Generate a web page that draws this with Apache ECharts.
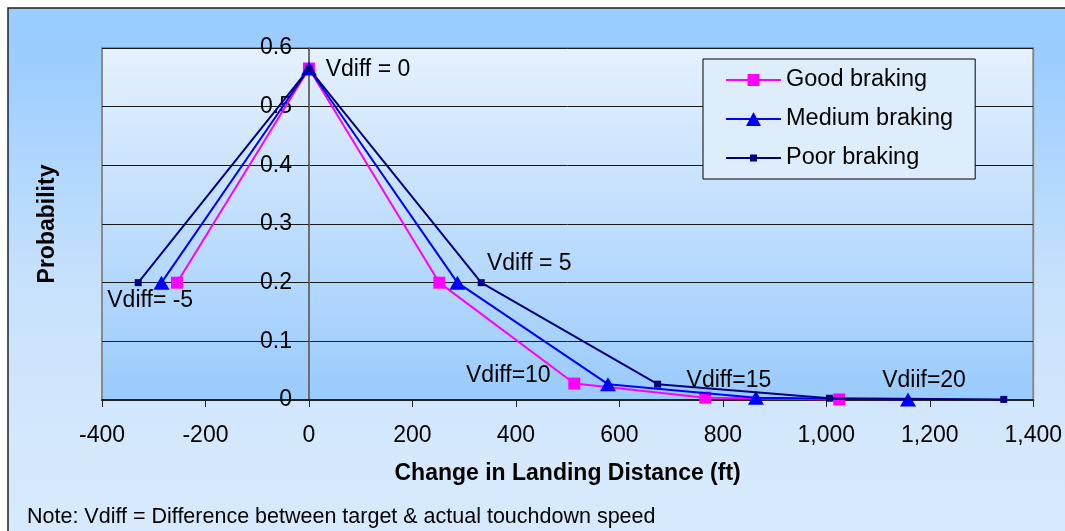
<!DOCTYPE html>
<html>
<head>
<meta charset="utf-8">
<script src="https://cdn.jsdelivr.net/npm/echarts@6/dist/echarts.min.js"></script>
<style>
  html, body { margin: 0; padding: 0; background: #ffffff; }
  #chart { width: 1065px; height: 531px; }
</style>
</head>
<body>
<div id="chart"></div>
<script>
// Change in landing distance (ft) vs. probability, per braking condition
const speedLabels = ['Vdiff= -5', 'Vdiff = 0', 'Vdiff = 5', 'Vdiff=10', 'Vdiff=15', 'Vdiif=20'];

const goodX   = [-255, 0, 252, 513, 766, 1025];
const goodY   = [0.2, 0.565, 0.2, 0.028, 0.004, 0.001];
const mediumX = [-285, 0, 287, 578, 864, 1158];
const mediumY = [0.2, 0.565, 0.2, 0.027, 0.004, 0.001];
const poorX   = [-330, 0, 333, 674, 1006, 1343];
const poorY   = [0.2, 0.565, 0.2, 0.027, 0.003, 0.001];

const seriesNames = ['Good braking', 'Medium braking', 'Poor braking'];
const xTicks = { min: -400, max: 1400, step: 200 };
const yTicks = { min: 0, max: 0.6, step: 0.1 };

const FONT = "'Liberation Sans', Arial, sans-serif";

// which series carries each speed label, and where the text sits around the point
const labelHost = ['poor', 'poor', 'poor', 'good', 'medium', 'medium'];
const labelOffset = [[12, 18], [59, 1], [48, -19], [-66, -8], [-27, -17], [16, -19]];

function buildData(xs, ys, key) {
  return xs.map((x, i) => {
    const item = { value: [x, ys[i]] };
    if (labelHost[i] === key) {
      item.label = {
        show: true,
        formatter: speedLabels[i],
        position: 'inside',
        align: 'center',
        verticalAlign: 'middle',
        offset: labelOffset[i],
        color: '#000',
        fontSize: 23,
        fontFamily: FONT
      };
    }
    return item;
  });
}

// legend glyphs: a line with the series marker in the middle (55 x 14 box)
const lineBar = 'M0 6H55V8H0Z';
const box = 'M0 0Z M55 14Z ';
const legendIcons = [
  'path://' + box + lineBar + ' M21.5 1H33.5V13H21.5Z',
  'path://' + box + lineBar + ' M27.5 0L35 14H20Z',
  'path://' + box + lineBar + ' M24 3.5H31V10.5H24Z'
];

const chart = echarts.init(document.getElementById('chart'), null, { renderer: 'canvas' });

chart.setOption({
  animation: false,
  textStyle: { fontFamily: FONT },
  graphic: [
    {
      type: 'rect',
      z: -10,
      shape: { x: 8, y: 8, width: 1100, height: 600 },
      style: {
        fill: new echarts.graphic.LinearGradient(0, 0, 0, 1, [
          { offset: 0, color: '#99ccff' },
          { offset: 0.08, color: '#9bcdff' },
          { offset: 0.45, color: '#c6e1fc' },
          { offset: 0.75, color: '#d6e9fc' },
          { offset: 1, color: '#d9eafc' }
        ]),
        stroke: '#222',
        lineWidth: 1.5
      }
    },
    {
      type: 'text',
      x: 48,
      y: 224,
      rotation: Math.PI / 2,
      style: {
        text: 'Probability',
        font: 'bold 23px ' + FONT,
        fill: '#000',
        align: 'center',
        verticalAlign: 'middle'
      }
    },
    {
      type: 'text',
      x: 27,
      y: 517,
      style: {
        text: 'Note: Vdiff = Difference between target & actual touchdown speed',
        font: '21.5px ' + FONT,
        fill: '#000',
        align: 'left',
        verticalAlign: 'middle'
      }
    }
  ],
  grid: {
    left: 102,
    right: 29,
    top: 48,
    bottom: 131,
    show: true,
    backgroundColor: new echarts.graphic.LinearGradient(0, 0, 0, 1, [
      { offset: 0, color: '#e6f1fd' },
      { offset: 1, color: '#99cbfd' }
    ]),
    borderColor: '#8a8a8a',
    borderWidth: 2
  },
  legend: {
    orient: 'vertical',
    left: 703,
    top: 59,
    padding: [8, 22, 8, 23],
    itemGap: 13,
    itemWidth: 55,
    itemHeight: 14,
    backgroundColor: '#deedfc',
    borderColor: '#000',
    borderWidth: 1,
    textStyle: { fontSize: 23.5, color: '#000', fontFamily: FONT, lineHeight: 26 },
    data: seriesNames.map((n, i) => ({ name: n, icon: legendIcons[i] }))
  },
  xAxis: {
    type: 'value',
    min: xTicks.min,
    max: xTicks.max,
    interval: xTicks.step,
    name: 'Change in Landing Distance (ft)',
    nameLocation: 'middle',
    nameGap: 62,
    nameTextStyle: { fontSize: 23, fontWeight: 'bold', color: '#000', fontFamily: FONT },
    axisLine: { show: true, onZero: false, lineStyle: { color: '#222', width: 2 } },
    axisTick: { show: true, inside: false, length: 7, lineStyle: { color: '#222', width: 1 } },
    axisLabel: {
      fontSize: 23,
      color: '#000',
      margin: 24,
      formatter: v => v.toLocaleString('en-US')
    },
    splitLine: { show: false }
  },
  yAxis: {
    type: 'value',
    min: yTicks.min,
    max: yTicks.max,
    interval: yTicks.step,
    axisLine: { show: true, onZero: false, lineStyle: { color: '#6e6e6e', width: 2 } },
    axisTick: { show: true, inside: false, length: 7, lineStyle: { color: '#222', width: 1 } },
    axisLabel: {
      fontSize: 23,
      color: '#000',
      margin: 17,
      formatter: v => (Math.round(v * 10) / 10).toString()
    },
    splitLine: { show: true, lineStyle: { color: '#1a1a1a', width: 1 } }
  },
  series: [
    {
      name: seriesNames[0],
      type: 'line',
      data: buildData(goodX, goodY, 'good'),
      symbol: 'rect',
      symbolSize: 12,
      showAllSymbol: true,
      lineStyle: { color: '#ff00ff', width: 2 },
      itemStyle: { color: '#ff00ff' },
      z: 3
    },
    {
      name: seriesNames[1],
      type: 'line',
      data: buildData(mediumX, mediumY, 'medium'),
      symbol: 'triangle',
      symbolSize: [16, 14],
      showAllSymbol: true,
      lineStyle: { color: '#0000ff', width: 2 },
      itemStyle: { color: '#0000ff' },
      z: 4
    },
    {
      name: seriesNames[2],
      type: 'line',
      data: buildData(poorX, poorY, 'poor'),
      symbol: 'rect',
      symbolSize: 7,
      showAllSymbol: true,
      lineStyle: { color: '#000080', width: 2 },
      itemStyle: { color: '#000080' },
      z: 5
    }
  ]
});

// place the vertical axis where the horizontal scale crosses zero
const zeroX = chart.convertToPixel({ xAxisIndex: 0 }, 0);
const leftX = chart.convertToPixel({ xAxisIndex: 0 }, xTicks.min);
chart.setOption({ yAxis: { offset: -(zeroX - leftX) } });
</script>
</body>
</html>
